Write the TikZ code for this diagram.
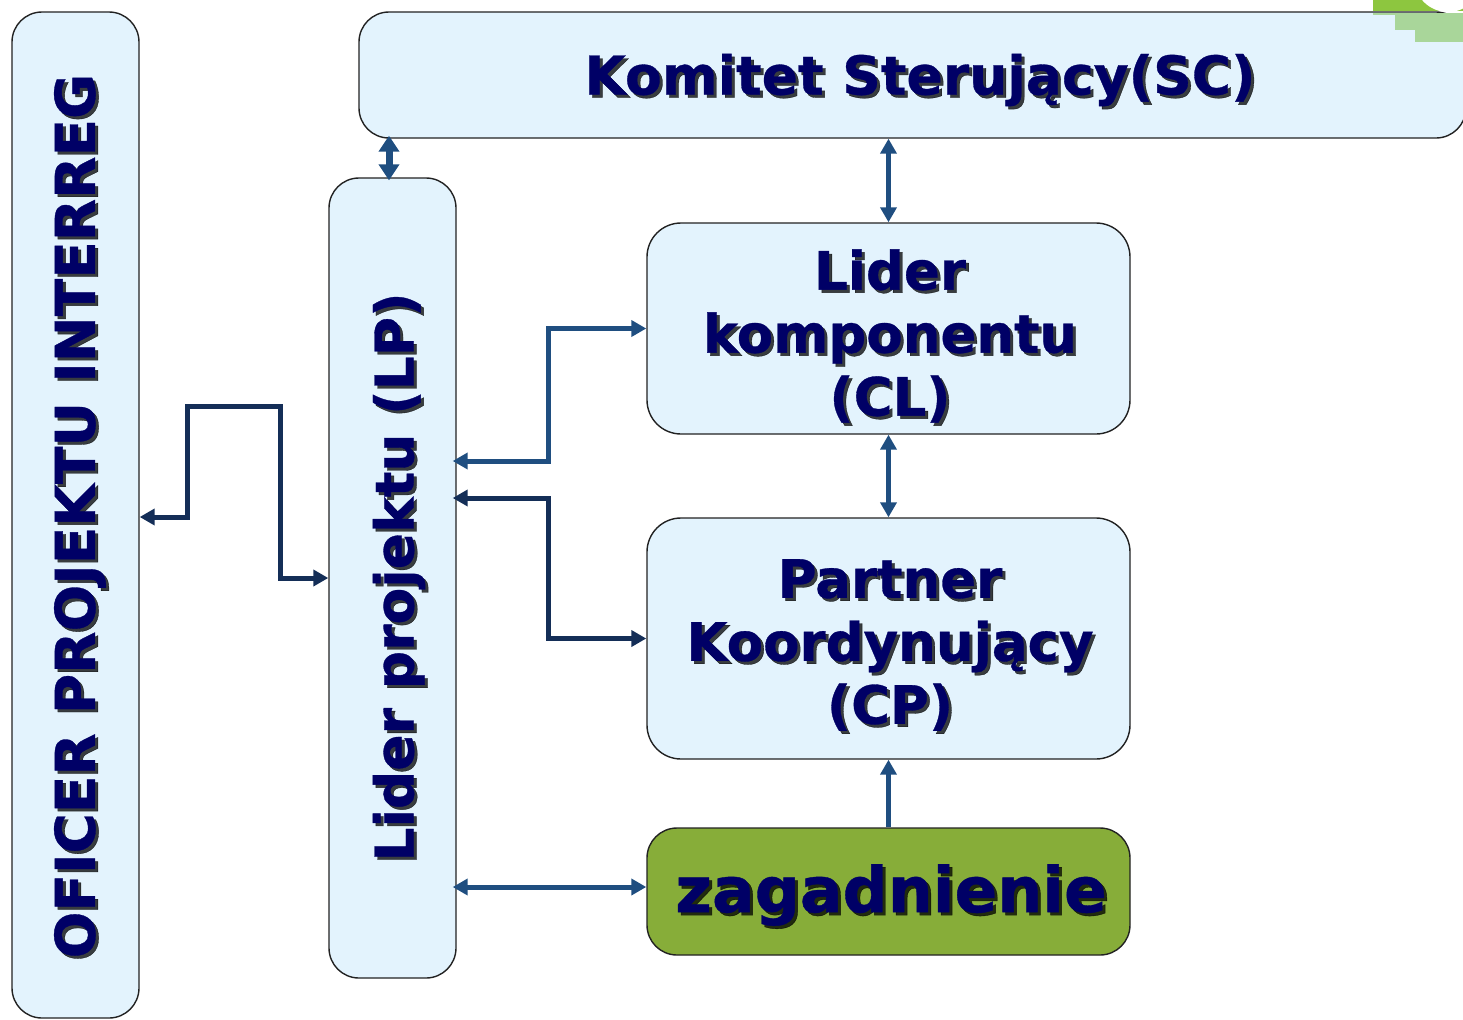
\documentclass[tikz,border=0pt]{standalone}
\usepackage{fontspec}
\setmainfont{DejaVu Sans}[BoldFeatures={FakeBold=0.6}]
\usetikzlibrary{arrows.meta}
\definecolor{boxfill}{HTML}{E3F3FD}
\definecolor{boxline}{HTML}{222222}
\definecolor{navy}{HTML}{000066}
\definecolor{arrblue}{HTML}{1F4E80}
\definecolor{arrdark}{HTML}{142E57}
\definecolor{zgreen}{HTML}{87AD39}
\definecolor{decdark}{HTML}{8DC63F}
\definecolor{declight}{HTML}{A9D69A}
\tikzset{
  box/.style={draw=boxline,line width=0.7pt,fill=boxfill,rounded corners=15pt,inner sep=0pt},
  txt/.style={font=\bfseries,text=navy,inner sep=0pt,align=center},
  conn/.style={line width=2.5pt,color=arrblue,{Triangle[length=7.5pt,width=8pt]}-{Triangle[length=7.5pt,width=8pt]}},
  connbig/.style={line width=3.5pt,color=arrblue,{Triangle[length=8pt,width=10pt]}-{Triangle[length=8pt,width=10pt]}},
  connone/.style={line width=2.5pt,color=arrblue,-{Triangle[length=7.5pt,width=8pt]}},
  dark/.style={color=arrdark}
}
\newcommand{\shlabel}[4]{%
  \node[txt,#3,text=black,opacity=0.75] (#1s) at ([xshift=1.5pt,yshift=-1.5pt]#2) {#4};
  \node[txt,#3] (#1) at (#2) {#4};}
\begin{document}
\begin{tikzpicture}[x=0.5pt,y=-0.5pt]
\useasboundingbox (0,0) rectangle (1463,1019);
\begin{scope}
\clip (0,0) rectangle (1463,1019);
% boxes
\node[box,minimum width=63.5pt,minimum height=503pt] (OF) at (75.5,515) {};
\node[box,minimum width=553.5pt,minimum height=63pt] (SC) at (912.5,75) {};
\node[box,minimum width=63.5pt,minimum height=400pt] (LP) at (392.5,578) {};
\node[box,rounded corners=17pt,minimum width=241.5pt,minimum height=105.5pt] (CL) at (888.5,328.5) {};
\node[box,rounded corners=17pt,minimum width=241.5pt,minimum height=120.5pt] (CP) at (888.5,638.5) {};
\node[box,fill=zgreen,rounded corners=15pt,minimum width=241.5pt,minimum height=63.5pt] (ZG) at (888.5,891.5) {};
% decoration top right
\fill[decdark] (1373,0) rectangle (1463,11);
\fill[white] (1448,-22) circle[radius=34];
\fill[declight] (1373,12.5) rectangle (1463,15);
\fill[declight] (1395,15) rectangle (1463,30);
\fill[declight] (1415,30) rectangle (1463,42);
\end{scope}
% texts
\shlabel{tSC}{920,80}{font=\bfseries\fontsize{26.8pt}{31.5pt}\selectfont}{Komitet Sterujący(SC)}
\shlabel{tOF}{80,516}{rotate=90,font=\bfseries\fontsize{27.5pt}{31.5pt}\selectfont}{OFICER PROJEKTU INTERREG}
\shlabel{tLP}{399,577}{rotate=90,font=\bfseries\fontsize{26.8pt}{31.5pt}\selectfont}{Lider projektu (LP)}
\shlabel{tCL}{890,336}{font=\bfseries\fontsize{26.5pt}{31.5pt}\selectfont}{Lider\\komponentu\\(CL)}
\shlabel{tCP}{890,645}{font=\bfseries\fontsize{26.5pt}{31.5pt}\selectfont}{Partner\\Koordynujący\\(CP)}
\shlabel{tZG}{891,895}{font=\bfseries\fontsize{31.6pt}{36pt}\selectfont}{zagadnienie}
% connectors
\draw[connbig] ([yshift=1.5pt]SC.south -| 389,0) -- ([yshift=-1.5pt]LP.north -| 389,0);
\draw[conn] (SC.south -| CL.north) -- (CL.north);
\draw[conn] (CL.south) -- (CP.north);
\draw[connone] (ZG.north) -- (CP.south);
\draw[conn] ([xshift=-2pt]LP.east |- 0,887) -- (ZG.west |- 0,887);
\draw[conn] ([xshift=-2pt]LP.east |- 0,461) -- (548,461) |- (CL.west);
\draw[conn,dark] ([xshift=-2pt]LP.east |- 0,498) -- (548,498) |- (CP.west);
\draw[conn,dark] (OF.east |- 0,517) -- (187,517) -- (187,406) -- (280,406) -- (280,578) -- (LP.west |- 0,578);
\end{tikzpicture}
\end{document}
